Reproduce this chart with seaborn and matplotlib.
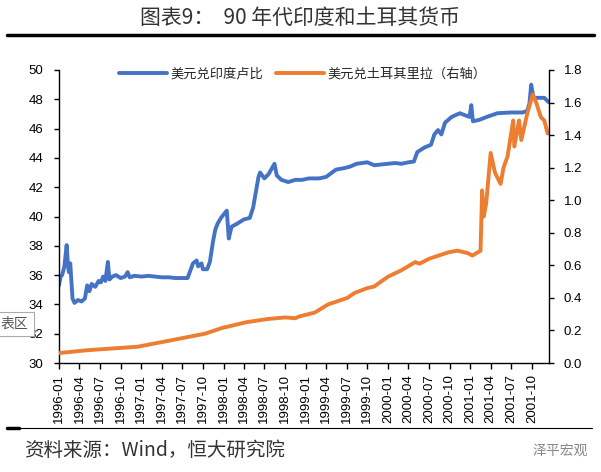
import matplotlib
matplotlib.use("Agg")
import matplotlib.pyplot as plt
import matplotlib.dates as mdates
import seaborn as sns
import pandas as pd
from matplotlib.lines import Line2D

# ---------------- data ----------------
inr_dates = [
    "1996-01-01", "1996-01-08", "1996-01-15", "1996-01-25", "1996-02-04", "1996-02-10",
    "1996-02-14", "1996-02-20", "1996-03-01", "1996-03-10", "1996-03-25", "1996-04-10",
    "1996-04-25", "1996-05-05", "1996-05-15", "1996-05-25", "1996-06-10", "1996-06-25",
    "1996-07-05", "1996-07-15", "1996-07-25", "1996-08-05", "1996-08-12", "1996-08-25",
    "1996-09-10", "1996-10-01", "1996-10-20", "1996-11-01", "1996-11-10", "1996-12-01",
    "1997-01-01", "1997-02-01", "1997-03-01", "1997-04-01", "1997-05-01", "1997-06-01",
    "1997-07-01", "1997-07-25", "1997-08-18", "1997-09-03", "1997-09-10", "1997-09-25",
    "1997-10-01", "1997-10-20", "1997-11-01", "1997-11-15", "1997-11-25", "1997-12-05",
    "1997-12-20", "1998-01-15", "1998-01-24", "1998-02-05", "1998-03-01", "1998-04-01",
    "1998-04-27", "1998-05-12", "1998-05-20", "1998-06-05", "1998-06-12", "1998-07-01",
    "1998-07-20", "1998-08-15", "1998-08-25", "1998-09-15", "1998-10-15", "1998-11-15",
    "1998-12-15", "1999-01-15", "1999-03-01", "1999-04-01", "1999-05-15", "1999-06-20",
    "1999-07-15", "1999-08-15", "1999-10-01", "1999-11-01", "2000-01-01", "2000-02-01",
    "2000-03-01", "2000-04-01", "2000-04-25", "2000-05-10", "2000-06-10", "2000-07-10",
    "2000-07-25", "2000-08-10", "2000-08-25", "2000-09-10", "2000-10-10", "2000-11-15",
    "2000-12-10", "2000-12-28", "2001-01-05", "2001-01-12", "2001-02-10", "2001-03-15",
    "2001-05-01", "2001-07-01", "2001-08-20", "2001-09-10", "2001-09-20", "2001-09-28",
    "2001-10-08", "2001-11-01", "2001-11-25", "2001-12-15",
]
inr_values = [
    35.3, 35.9, 36.0, 36.6, 38.05, 36.6,
    36.2, 36.8, 34.4, 34.1, 34.3, 34.2,
    34.4, 35.3, 34.9, 35.4, 35.2, 35.6,
    35.5, 35.9, 35.6, 36.9, 35.7, 35.9,
    36.0, 35.8, 35.9, 36.2, 35.85, 35.95,
    35.9, 35.95, 35.9, 35.85, 35.85, 35.8,
    35.8, 35.8, 36.8, 37.0, 36.6, 36.8,
    36.4, 36.4, 36.9, 38.3, 39.1, 39.5,
    39.9, 40.4, 38.5, 39.3, 39.5, 39.8,
    39.9, 40.6, 41.3, 42.7, 43.0, 42.6,
    42.9, 43.6, 42.8, 42.5, 42.35, 42.5,
    42.5, 42.6, 42.6, 42.7, 43.2, 43.3,
    43.4, 43.6, 43.7, 43.5, 43.6, 43.65,
    43.6, 43.7, 43.75, 44.4, 44.7, 44.9,
    45.6, 45.9, 45.6, 46.4, 46.8, 47.05,
    46.9, 46.8, 47.6, 46.5, 46.6, 46.8,
    47.05, 47.1, 47.1, 47.2, 47.7, 49.0,
    48.1, 48.1, 48.1, 47.8,
]

try_dates = [
    "1996-01-01", "1996-05-01", "1996-12-15", "1997-05-15", "1997-10-10", "1997-12-25",
    "1998-04-10", "1998-07-15", "1998-10-01", "1998-11-15", "1998-12-01", "1999-02-10",
    "1999-04-10", "1999-07-05", "1999-08-05", "1999-10-01", "1999-11-01", "1999-12-01",
    "2000-01-01", "2000-03-01", "2000-05-01", "2000-05-20", "2000-07-01", "2000-09-25",
    "2000-11-05", "2000-12-20", "2001-01-10", "2001-02-15", "2001-02-22", "2001-03-01",
    "2001-03-12", "2001-04-01", "2001-04-20", "2001-05-15", "2001-05-28", "2001-06-15",
    "2001-07-10", "2001-07-15", "2001-08-05", "2001-08-15", "2001-09-10", "2001-10-05",
    "2001-10-20", "2001-11-10", "2001-11-25", "2001-12-10",
]
try_values = [
    0.061, 0.078, 0.10, 0.14, 0.18, 0.215,
    0.25, 0.27, 0.28, 0.275, 0.285, 0.31,
    0.36, 0.40, 0.43, 0.46, 0.47, 0.50,
    0.53, 0.57, 0.62, 0.61, 0.64, 0.68,
    0.69, 0.675, 0.66, 0.69, 1.06, 0.90,
    0.98, 1.29, 1.17, 1.10, 1.20, 1.27,
    1.49, 1.33, 1.49, 1.37, 1.53, 1.65,
    1.60, 1.51, 1.49, 1.41,
]

title_text = "图表9：  90 年代印度和土耳其货币"
series_inr = "美元兑印度卢比"
series_try = "美元兑土耳其里拉（右轴）"
source_text = "资料来源：Wind，恒大研究院"
left_ticks = [30, 32, 34, 36, 38, 40, 42, 44, 46, 48, 50]
right_ticks = [0.0, 0.2, 0.4, 0.6, 0.8, 1.0, 1.2, 1.4, 1.6, 1.8]

# ---------------- style ----------------
sns.set_style("white")
plt.rcParams['font.family'] = ['Noto Sans CJK SC', 'DejaVu Sans']
num_font = 'Liberation Sans'
BLUE = '#4472C4'
ORANGE = '#ED7D31'

df_inr = pd.DataFrame({"date": pd.to_datetime(inr_dates), "value": inr_values})
df_try = pd.DataFrame({"date": pd.to_datetime(try_dates), "value": try_values})

W, H = 601, 472
fig = plt.figure(figsize=(W / 100, H / 100), dpi=100)
fig.patch.set_facecolor('white')
ax = fig.add_axes([59 / W, 1 - 363 / H, 490 / W, 293 / H])
ax2 = ax.twinx()

sns.lineplot(data=df_inr, x="date", y="value", ax=ax, color=BLUE, lw=2.8)
sns.lineplot(data=df_try, x="date", y="value", ax=ax2, color=ORANGE, lw=2.8)

ax.set_xlim(pd.Timestamp("1996-01-01"), pd.Timestamp("2001-12-16"))
ax.set_ylim(30, 50)
ax2.set_ylim(0, 1.8)
ax.set_yticks(left_ticks)
ax2.set_yticks(right_ticks)
ax2.set_yticklabels([f"{v:.1f}" for v in right_ticks])

xt = pd.date_range("1996-01-01", "2001-10-01", freq="3MS")
ax.set_xticks(xt)
ax.xaxis.set_major_formatter(mdates.DateFormatter("%Y-%m"))
for lab in ax.get_xticklabels():
    lab.set_rotation(90)

for a in (ax, ax2):
    a.set_xlabel("")
    a.set_ylabel("")
    a.grid(False)
    for s in a.spines.values():
        s.set_color('black')
        s.set_linewidth(1.0)
    a.spines['top'].set_visible(False)

ax.spines['right'].set_visible(False)
ax2.spines['left'].set_visible(False)
ax2.spines['bottom'].set_visible(False)

ax.tick_params(axis='y', direction='out', length=3.5, width=1, pad=8, labelsize=9.5,
               colors='black', left=True)
ax.tick_params(axis='x', direction='out', length=4, width=1, pad=4, labelsize=9.5,
               colors='black', bottom=True)
ax2.tick_params(axis='y', direction='out', length=3.5, width=1, pad=7, labelsize=9.5,
                colors='black', right=True)
for lab in ax.get_yticklabels() + ax.get_xticklabels() + ax2.get_yticklabels():
    lab.set_fontfamily(num_font)

# legend
handles = [Line2D([], [], color=BLUE, lw=2.8), Line2D([], [], color=ORANGE, lw=2.8)]
fig.legend(handles, [series_inr, series_try], loc='center',
           bbox_to_anchor=(303 / W, 1 - 74 / H), ncol=2, frameon=False,
           fontsize=9.5, handlelength=3.6, handletextpad=0.3, columnspacing=1.0)

# title and decorations
fig.text(0.5, 1 - 18 / H, title_text, ha='center', va='center', fontsize=15, color='#333333')
fig.add_artist(Line2D([7 / W, 594 / W], [1 - 35 / H, 1 - 35 / H], color='black', lw=2.5,
                      transform=fig.transFigure))
fig.add_artist(Line2D([7 / W, 592 / W], [1 - 428 / H, 1 - 428 / H], color='black', lw=0.8,
                      transform=fig.transFigure))
fig.add_artist(Line2D([7 / W, 19 / W], [1 - 428 / H, 1 - 428 / H], color='black', lw=2.5,
                      transform=fig.transFigure))
fig.text(24 / W, 1 - 450 / H, source_text, ha='left', va='center', fontsize=14,
         color='#333333', style='italic')
fig.text(588 / W, 1 - 451 / H, "泽平宏观", ha='right', va='center', fontsize=10,
         color='#888888')
fig.text(1 / W, 1 - 324 / H, "表区", ha='left', va='center', fontsize=10, color='#555555',
         bbox=dict(boxstyle='square,pad=0.35', fc='white', ec='#aaaaaa', lw=0.8))

fig.savefig("out.png", dpi=100, facecolor='white')
